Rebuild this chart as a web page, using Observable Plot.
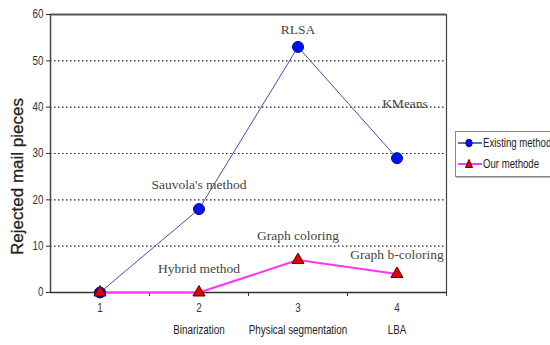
<!DOCTYPE html>
<html><head><meta charset="utf-8">
<script src="https://cdn.jsdelivr.net/npm/d3@7"></script>
<script src="https://cdn.jsdelivr.net/npm/@observablehq/plot@0.6"></script>
<style>
html,body{margin:0;padding:0;background:#fff;overflow:hidden;}
#wrap{position:relative;width:550px;height:345px;}
#legend{position:absolute;left:455px;top:131px;width:110px;height:44px;border:1px solid #888;background:#fff;
 font-family:"Liberation Sans",Arial,sans-serif;font-size:12px;color:#222;box-shadow:1px 1px 0 #bbb;}
#legend div{position:absolute;left:1px;display:flex;align-items:center;white-space:nowrap;}
#legend span{display:inline-block;transform:scaleX(0.8);transform-origin:left center;}
</style></head>
<body><div id="wrap"><div id="chart"></div>
<div id="legend">
 <div style="top:4px"><svg width="26" height="14"><line x1="1" x2="25" y1="7" y2="7" stroke="#3a3aa8" stroke-width="1.5"/><ellipse cx="12" cy="7" rx="3.2" ry="3.8" fill="#0010f0" stroke="#001080"/></svg><span>Existing method</span></div>
 <div style="top:25px"><svg width="26" height="14"><line x1="1" x2="25" y1="7" y2="7" stroke="#ff33ff" stroke-width="2"/><path d="M12,2.5 L15.5,10.5 L8.5,10.5 Z" fill="#e00000" stroke="#600"/></svg><span>Our methode</span></div>
</div></div>
<script>
const steps = [1, 2, 3, 4];
const stepLabels = ["", "Binarization", "Physical segmentation", "LBA"];
const existing = [0, 18, 53, 29];
const ours = [0, 0, 7, 4];
const existingNames = ["", "Sauvola's method", "RLSA", "KMeans"];
const oursNames = ["", "Hybrid method", "Graph coloring", "Graph b-coloring"];
const yTicks = [0, 10, 20, 30, 40, 50, 60];
const gridTicks = [10, 20, 30, 40, 50];

const ex = steps.map((s, i) => ({x: s, y: existing[i], name: existingNames[i], step: stepLabels[i]}));
const ou = steps.map((s, i) => ({x: s, y: ours[i], name: oursNames[i]}));

const serif = "'Liberation Serif','Times New Roman',serif";
const annot = (d, dx, dy) => Plot.text([d], {x: "x", y: "y", text: "name", dx, dy, fontFamily: serif, fontSize: 13.5, fill: "#444"});

const chart = Plot.plot({
  width: 550, height: 345,
  marginLeft: 50, marginRight: 104, marginTop: 14, marginBottom: 53,
  style: {fontFamily: "'Liberation Sans',Arial,sans-serif", fontSize: "11px", color: "#333", background: "white"},
  x: {domain: [0.5, 4.5]},
  y: {domain: [0, 60]},
  marks: [
    Plot.ruleY(gridTicks, {stroke: "#222", strokeDasharray: "1.5,2.5", strokeWidth: 1.2}),
    Plot.ruleY([60], {stroke: "#555", strokeWidth: 2}),
    Plot.ruleX([4.5], {stroke: "#444", strokeWidth: 1.2, y1: 0, y2: 60}),
    Plot.ruleX([0.5], {stroke: "#444", strokeWidth: 1.5, y1: 0, y2: 60}),
    Plot.ruleY([0], {stroke: "#333", strokeWidth: 1.5}),
    Plot.axisY({ticks: yTicks, tickSize: 4, tickPadding: 3, label: "Rejected mail pieces", labelAnchor: "center", labelArrow: false, labelOffset: 40, fontSize: 12}),
    Plot.axisX({ticks: steps, tickSize: 0, tickPadding: 11, tickFormat: d => String(d), label: null, fontSize: 12}),
    Plot.axisX({ticks: [1.5, 2.5, 3.5, 4.5], tickSize: 4, tickFormat: () => "", label: null}),
    Plot.text(ex.filter(d => d.step), {x: "x", y: 0, text: "step", dy: 38, fontSize: 12, fill: "#222", className: "steplab"}),
    Plot.line(ex, {x: "x", y: "y", stroke: "#4a4ab0", strokeWidth: 1}),
    Plot.line(ou, {x: "x", y: "y", stroke: "#ff33ff", strokeWidth: 2}),
    Plot.dot(ex, {x: "x", y: "y", r: 5.5, fill: "#0010f0", stroke: "#000c90", strokeWidth: 1}),
    Plot.dot(ou, {x: "x", y: "y", symbol: "triangle", r: 4.5, fill: "#e00000", stroke: "#500", strokeWidth: 1}),
    annot(ex[1], 0, -24),
    annot(ex[2], 0, -17),
    annot(ex[3], 8, -54),
    annot(ou[1], 0, -24),
    annot(ou[2], 0, -24),
    annot(ou[3], 0, -19)
  ]
});
chart.querySelectorAll('[aria-label="y-axis label"] text').forEach(t => {
  t.setAttribute("font-size", "17"); t.setAttribute("fill", "#222");
  t.setAttribute("stroke", "#222"); t.setAttribute("stroke-width", "0.3");
  const tr = t.getAttribute("transform") || "";
  t.setAttribute("transform", "translate(0,23) " + tr);
});
function narrow(t, k) {
  const tr = t.getAttribute("transform");
  if (tr) t.setAttribute("transform", tr + ` scale(${k},1)`);
  else {
    const x = +(t.getAttribute("x") || 0);
    t.setAttribute("transform", `translate(${x},0) scale(${k},1) translate(${-x},0)`);
  }
}
chart.querySelectorAll('[aria-label="y-axis tick label"] text, [aria-label="x-axis tick label"] text, .steplab text').forEach(t => narrow(t, 0.82));
document.getElementById("chart").appendChild(chart);
</script></body></html>
